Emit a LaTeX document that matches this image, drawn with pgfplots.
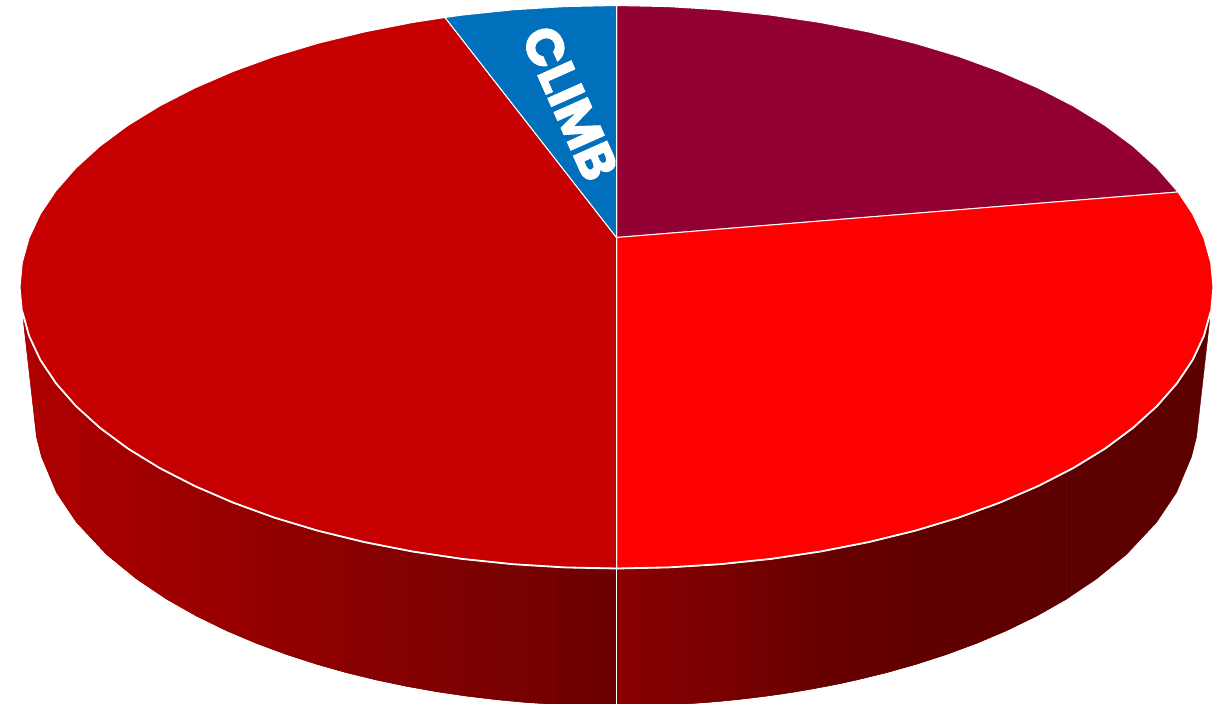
\documentclass[border=0pt]{standalone}
\usepackage{fontspec}
\setmainfont{Poppins}
\newfontfamily\climbfont[BoldFeatures={FakeBold=2}]{Poppins}
\usepackage{pgfplots}
\pgfplotsset{compat=1.18}
\definecolor{sliceMaroon}{HTML}{930033}
\definecolor{sliceRed}{HTML}{FF0000}
\definecolor{sliceDark}{HTML}{C60000}
\definecolor{sliceBlue}{HTML}{0070BC}
\definecolor{sideDark}{HTML}{5C0000}
\definecolor{backLeft}{HTML}{8C0000}
\definecolor{backRight}{HTML}{6C0000}
% one strip of the side wall: x1, x2, lower edge at x1, lower edge at x2, red level
\newcommand{\strip}[5]{\addplot[fill={rgb,255:red,#5;green,0;blue,0}, draw={rgb,255:red,#5;green,0;blue,0}, line width=0.4pt] coordinates {(#1,300) (#2,300) (#2,#4) (#1,#3)} --cycle;}
\begin{document}
\begin{tikzpicture}
\useasboundingbox (0,0) rectangle (1216pt,704pt);
\begin{axis}[
	anchor=south west, at={(0,0)},
	scale only axis,
	width=1216pt, height=704pt,
	xmin=0, xmax=1216,
	ymin=0, ymax=704,
	y dir=reverse,
	hide axis
]
% backing under the strips, so no white shows through at their joins
\addplot[fill=backLeft, draw=none] coordinates {
(616.5,300) (23.5,300) (23.5,322) (36.5,437) (41.5,456.7) (56.5,492.5) (76.5,522.4)
(106.5,554.4) (136.5,578.9) (166.5,599.1) (196.5,616.1) (226.5,630.7) (256.5,643.4)
(286.5,654.5) (316.5,664.2) (346.5,672.7) (376.5,680) (406.5,686.3) (436.5,691.7)
(466.5,696.1) (496.5,699.7) (526.5,702.5) (556.5,704.4) (586.5,705.6) (616.5,706)
} --cycle;
\addplot[fill=backRight, draw=none] coordinates {
(616.5,300) (1066.5,300) (1066.5,599.1) (1036.5,616.1) (1006.5,630.7) (976.5,643.4)
(946.5,654.5) (916.5,664.2) (886.5,672.7) (856.5,680) (841.5,683.3) (826.5,686.3)
(811.5,689.1) (796.5,691.7) (781.5,694) (766.5,696.1) (751.5,698) (736.5,699.7)
(721.5,701.2) (706.5,702.5) (691.5,703.5) (676.5,704.4) (661.5,705.1) (646.5,705.6)
(631.5,705.9) (616.5,706)
} --cycle;
% side wall, left half
\strip{616.5}{586.5}{706}{705.6}{109}
\strip{586.5}{556.5}{705.6}{704.4}{112}
\strip{556.5}{526.5}{704.4}{702.5}{116}
\strip{526.5}{496.5}{702.5}{699.7}{119}
\strip{496.5}{466.5}{699.7}{696.1}{123}
\strip{466.5}{436.5}{696.1}{691.7}{126}
\strip{436.5}{406.5}{691.7}{686.3}{129}
\strip{406.5}{376.5}{686.3}{680}{133}
\strip{376.5}{346.5}{680}{672.7}{136}
\strip{346.5}{316.5}{672.7}{664.2}{140}
\strip{316.5}{286.5}{664.2}{654.5}{143}
\strip{286.5}{256.5}{654.5}{643.4}{147}
\strip{256.5}{226.5}{643.4}{630.7}{150}
\strip{226.5}{196.5}{630.7}{616.1}{154}
\strip{196.5}{166.5}{616.1}{599.1}{157}
\strip{166.5}{136.5}{599.1}{578.9}{160}
\strip{136.5}{106.5}{578.9}{554.4}{164}
\strip{106.5}{76.5}{554.4}{522.4}{167}
\strip{76.5}{56.5}{522.4}{492.5}{170}
\strip{56.5}{41.5}{492.5}{456.7}{172}
\strip{41.5}{36.5}{456.7}{437}{174}
\strip{36.5}{23.5}{437}{322}{175}
% side wall, right half: gradient, then flat dark
\strip{616.5}{631.5}{706}{705.9}{137}
\strip{631.5}{646.5}{705.9}{705.6}{134}
\strip{646.5}{661.5}{705.6}{705.1}{132}
\strip{661.5}{676.5}{705.1}{704.4}{129}
\strip{676.5}{691.5}{704.4}{703.5}{127}
\strip{691.5}{706.5}{703.5}{702.5}{125}
\strip{706.5}{721.5}{702.5}{701.2}{122}
\strip{721.5}{736.5}{701.2}{699.7}{120}
\strip{736.5}{751.5}{699.7}{698}{117}
\strip{751.5}{766.5}{698}{696.1}{115}
\strip{766.5}{781.5}{696.1}{694}{112}
\strip{781.5}{796.5}{694}{691.7}{110}
\strip{796.5}{811.5}{691.7}{689.1}{107}
\strip{811.5}{826.5}{689.1}{686.3}{105}
\strip{826.5}{841.5}{686.3}{683.3}{103}
\strip{841.5}{856.5}{683.3}{680}{100}
\strip{856.5}{886.5}{680}{672.7}{99}
\strip{886.5}{916.5}{672.7}{664.2}{98}
\strip{916.5}{946.5}{664.2}{654.5}{97}
\strip{946.5}{976.5}{654.5}{643.4}{96}
\strip{976.5}{1006.5}{643.4}{630.7}{95}
\strip{1006.5}{1036.5}{630.7}{616.1}{94}
\strip{1036.5}{1066.5}{616.1}{599.1}{93}
\addplot[fill=sideDark, draw=sideDark, line width=0.4pt] coordinates {
(1066.5,300) (1209.5,300) (1209.5,322) (1196.5,437) (1191.5,456.7) (1176.5,492.5)
(1156.5,522.4) (1126.5,554.4) (1096.5,578.9) (1066.5,599.1)
} --cycle;
% top face
\addplot[fill=sliceMaroon, draw=white, line width=1pt] coordinates {
(616.5,237.5) (616.5,5.5) (668.5,6.6) (720.1,9.8) (770.9,15.1) (820.5,22.5)
(868.6,31.9) (914.8,43.2) (958.7,56.4) (999.9,71.4) (1038.3,88) (1073.4,106)
(1105.2,125.5) (1133.1,146.2) (1157.1,168) (1178,192)
} --cycle;
\addplot[fill=sliceRed, draw=white, line width=1pt] coordinates {
(616.5,237.5) (1178,192) (1192.7,214.1) (1203.9,238.1) (1210.7,262.5) (1213,287)
(1210.7,311.5) (1203.9,335.9) (1192.7,359.9) (1177,383.3) (1157.1,406)
(1133.1,427.8) (1105.2,448.5) (1073.4,468) (1038.3,486) (999.9,502.6)
(958.7,517.6) (914.8,530.8) (868.6,542.1) (820.5,551.5) (770.9,558.9)
(720.1,564.2) (668.5,567.4) (616.5,568.5)
} --cycle;
\addplot[fill=sliceDark, draw=white, line width=1pt] coordinates {
(616.5,237.5) (616.5,568.5) (564.5,567.4) (512.9,564.2) (462.1,558.9) (412.5,551.5)
(364.4,542.1) (318.2,530.8) (274.3,517.6) (233.1,502.6) (194.7,486) (159.6,468)
(127.8,448.5) (99.9,427.8) (75.9,406) (56,383.3) (40.3,359.9) (29.1,335.9)
(22.3,311.5) (20,287) (22.3,262.5) (29.1,238.1) (40.3,214.1) (56,190.7) (75.9,168)
(99.9,146.2) (127.8,125.5) (159.6,106) (194.7,88) (233.1,71.4) (274.3,56.4)
(318.2,43.2) (364.4,31.9) (412.5,22.5) (445,17.5)
} --cycle;
\addplot[fill=sliceBlue, draw=white, line width=1pt] coordinates {
(616.5,237.5) (445,17.5) (462.1,15.1) (512.9,9.8) (564.5,6.6) (616.5,5.5)
} --cycle;
% white rim along the front and the seam on the wall
\addplot[white, line width=1.8pt] coordinates {
(1210.7,311.5) (1203.9,335.9) (1192.7,359.9) (1177,383.3) (1157.1,406)
(1133.1,427.8) (1105.2,448.5) (1073.4,468) (1038.3,486) (999.9,502.6)
(958.7,517.6) (914.8,530.8) (868.6,542.1) (820.5,551.5) (770.9,558.9)
(720.1,564.2) (668.5,567.4) (616.5,568.5) (564.5,567.4) (512.9,564.2) (462.1,558.9)
(412.5,551.5) (364.4,542.1) (318.2,530.8) (274.3,517.6) (233.1,502.6) (194.7,486)
(159.6,468) (127.8,448.5) (99.9,427.8) (75.9,406) (56,383.3) (40.3,359.9) (29.1,335.9)
(22.3,311.5)
};
\addplot[white, line width=1.2pt] coordinates {(616.5,568.5) (616.5,704)};
\node[rotate=-66, text=white, font=\fontsize{52}{52}\selectfont\climbfont\bfseries] at (axis cs:570,103) {CLIMB};
\end{axis}
\end{tikzpicture}
\end{document}
